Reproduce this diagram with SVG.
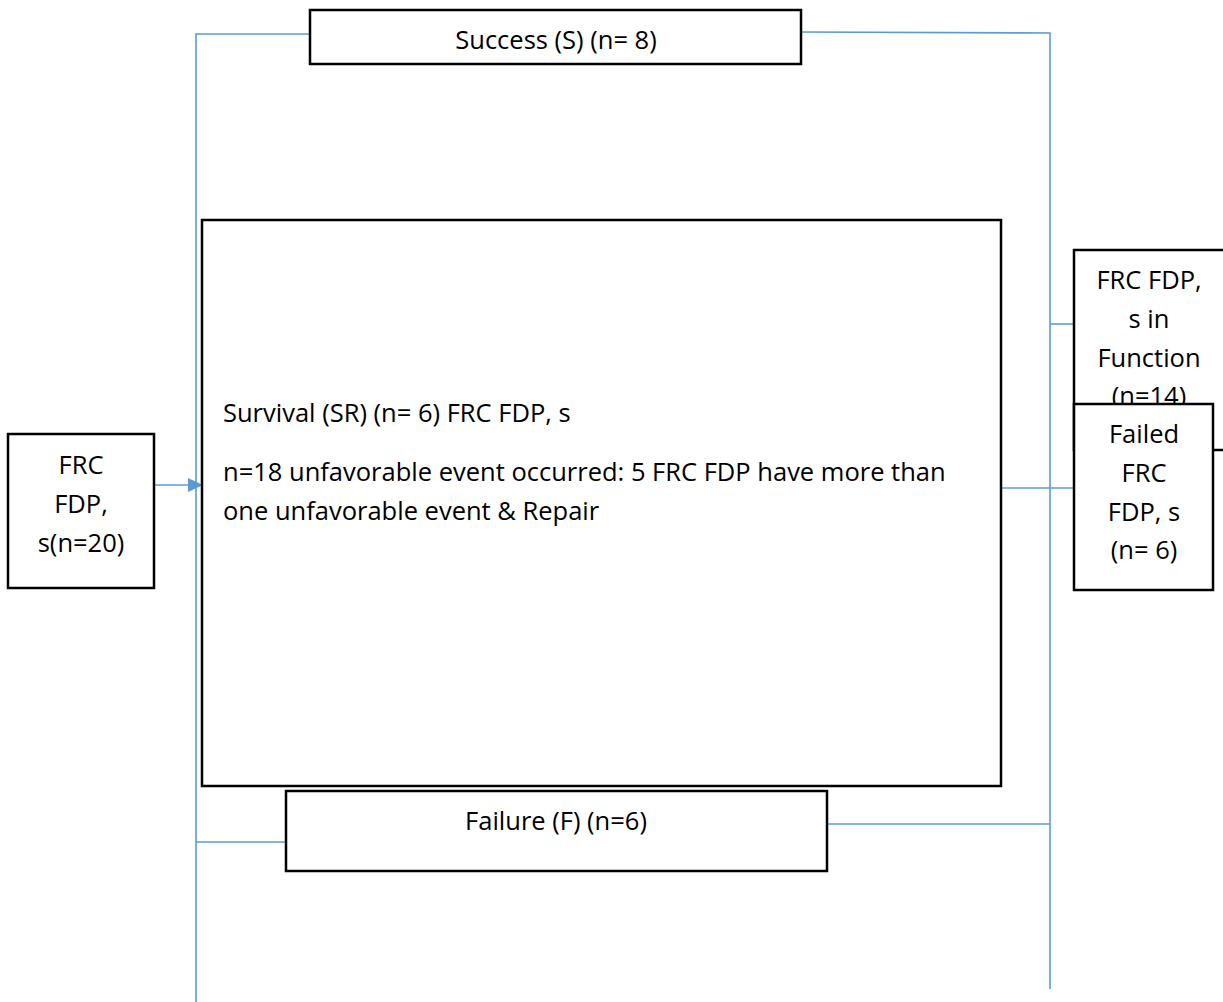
<svg xmlns="http://www.w3.org/2000/svg" width="1223" height="1002" viewBox="0 0 1223 1002">
<style>
.box{fill:#fff;stroke:#000;stroke-width:2.5}
.ln{fill:none;stroke:#5b9bd5;stroke-width:1.6}
text{font-family:"Open Sans",Lato,sans-serif;font-size:25.5px;fill:#000}
.c{text-anchor:middle}
</style>
<defs>
<marker id="ah" markerWidth="15" markerHeight="14" refX="14" refY="7" orient="auto" markerUnits="userSpaceOnUse"><path d="M0,0 L15,7 L0,14 z" fill="#5b9bd5"/></marker>
</defs>
<g id="connectors">
<polyline class="ln" points="310,34 196,34 196,1002"/>
<polyline class="ln" points="801,32 1050,33 1050,989"/>
<line class="ln" x1="196" y1="842" x2="286" y2="842"/>
<line class="ln" x1="827" y1="824" x2="1050" y2="824"/>
<line class="ln" x1="1050" y1="324" x2="1074" y2="324"/>
<line class="ln" x1="1001" y1="488" x2="1074" y2="488"/>
<line class="ln" x1="154" y1="485" x2="202" y2="485" marker-end="url(#ah)"/>
<line x1="1213" y1="440" x2="1223" y2="440" stroke="#000" stroke-width="2"/>
</g>
<g id="success"><rect class="box" x="310" y="10" width="491" height="54"/><text class="c" x="556" y="49">Success (S) (n= 8)</text></g>
<g id="survival"><rect class="box" x="202" y="220" width="799" height="566"/>
<text x="223" y="422">Survival (SR) (n= 6) FRC FDP, s</text>
<text x="223" y="481">n=18 unfavorable event occurred: 5 FRC FDP have more than</text>
<text x="223" y="520">one unfavorable event &amp; Repair</text></g>
<g id="failure"><rect class="box" x="286" y="791" width="541" height="80"/><text class="c" x="556" y="830">Failure (F) (n=6)</text></g>
<g id="start"><rect class="box" x="8" y="434" width="146" height="154"/>
<text class="c" x="81" y="474">FRC</text><text class="c" x="81" y="513">FDP,</text><text class="c" x="81" y="552">s(n=20)</text></g>
<g id="infunction"><rect class="box" x="1074" y="250" width="155" height="200"/>
<text class="c" x="1149" y="289">FRC FDP,</text><text class="c" x="1149" y="328">s in</text><text class="c" x="1149" y="367">Function</text><text class="c" x="1149" y="405">(n=14)</text></g>
<g id="failed"><rect class="box" x="1074" y="404" width="139" height="186"/>
<text class="c" x="1144" y="443">Failed</text><text class="c" x="1144" y="482">FRC</text><text class="c" x="1144" y="521">FDP, s</text><text class="c" x="1144" y="559">(n= 6)</text></g>
</svg>
